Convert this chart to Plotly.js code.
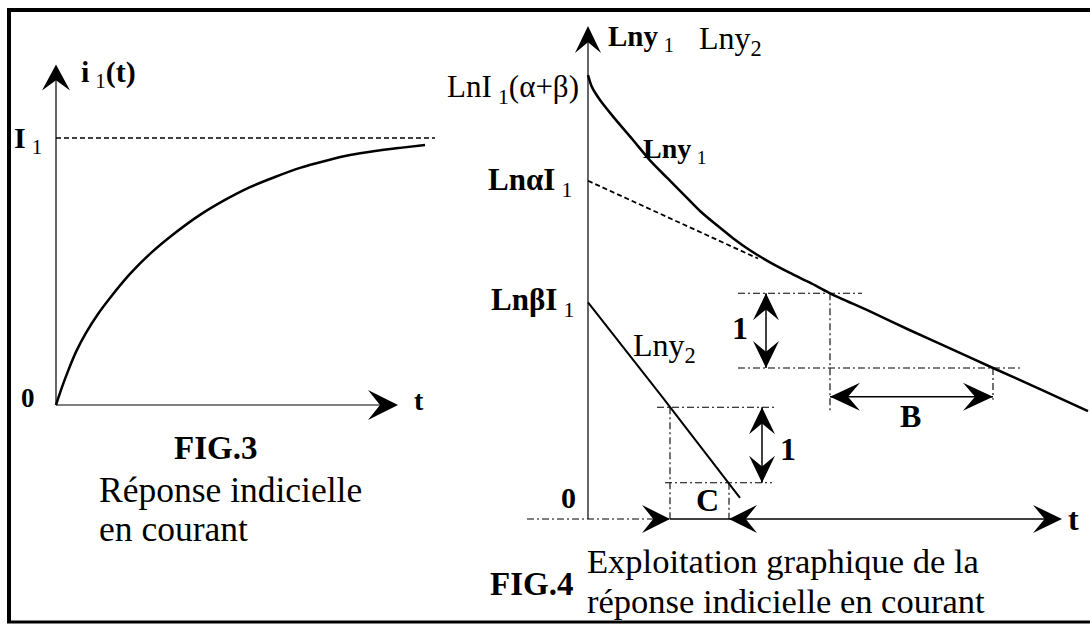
<!DOCTYPE html>
<html>
<head>
<meta charset="utf-8">
<script src="https://cdn.plot.ly/plotly-3.0.1.min.js"></script>
<style>
  html, body { margin: 0; padding: 0; background: #fff; }
  #plot { width: 1090px; height: 625px; }
</style>
</head>
<body>
<div id="plot"></div>
<script>
// ---------- FIG.3 : step response i1(t), I1 = 1 ----------
const fig3T = [0, 0.06, 0.12, 0.20, 0.30, 0.42, 0.54, 0.74, 0.94, 1.19, 1.44, 1.69, 1.94, 2.19, 2.44, 2.69, 2.94, 3.19, 3.44, 3.69];
const fig3I = [0, 0.067, 0.127, 0.199, 0.270, 0.341, 0.401, 0.491, 0.566, 0.644, 0.712, 0.768, 0.816, 0.854, 0.888, 0.914, 0.936, 0.951, 0.963, 0.974];
const fig3Level = 1;          // I1

// ---------- FIG.4 : logarithmic plot ----------
const lny1T = [0, 0.04, 0.12, 0.27, 0.45, 0.62, 0.79, 0.97, 1.12, 1.29, 1.45, 1.62, 1.82, 2.02, 2.22, 2.42, 2.82, 3.22, 3.62, 4.05, 4.52, 5.00];
const lny1V = [5.88, 5.72, 5.55, 5.30, 5.02, 4.75, 4.52, 4.28, 4.08, 3.89, 3.72, 3.56, 3.40, 3.26, 3.13, 2.99, 2.75, 2.50, 2.26, 2.00, 1.72, 1.43];
const asymT = [0, 1.70];      // Ln(alpha I1) - t/B
const asymV = [4.48, 3.45];
const lny2T = [0, 0.74, 1.52];
const lny2V = [2.87, 1.62, 0.28];
// unit steps used to read B and C
const bTimes = [2.42, 4.05];
const bLevels = [2.99, 2.00];
const cTimes = [0.82, 1.41];
const cLevels = [1.48, 0.48];

// ---------- coordinate systems (px per unit, origin in px) ----------
const W = 1090, H = 625;
const S3 = { xr: 'x',  yr: 'y',  ux: 100, uy: 267,  ox: 56,  oy: 405 };
const S4 = { xr: 'x2', yr: 'y2', ux: 100, uy: 75.5, ox: 588, oy: 519 };
function xRange(s) { return [-s.ox / s.ux, (W - s.ox) / s.ux]; }
function yRange(s) { return [(s.oy - H) / s.uy, s.oy / s.uy]; }
const PX = x => x / W, PY = y => 1 - y / H;

const BLACK = '#000';
const shapes = [];
function seg(s, x0, y0, x1, y1, width, dash) {
  shapes.push({ type: 'line', xref: s.xr, yref: s.yr, x0, y0, x1, y1,
    line: { color: BLACK, width: width, dash: dash || 'solid' } });
}
// filled concave arrowhead, tip at (tx,ty), size in px
function head(s, tx, ty, dir, len, half) {
  const d = { right: [1, 0], left: [-1, 0], up: [0, -1], down: [0, 1] }[dir];
  const p = [-d[1], d[0]];
  const notch = len * 0.6;
  const pts = [
    [0, 0],
    [-d[0] * len + p[0] * half, -d[1] * len + p[1] * half],
    [-d[0] * notch, -d[1] * notch],
    [-d[0] * len - p[0] * half, -d[1] * len - p[1] * half]
  ].map(o => [tx + o[0] / s.ux, ty - o[1] / s.uy]);
  const path = 'M' + pts.map(q => q[0].toFixed(4) + ',' + q[1].toFixed(4)).join(' L') + ' Z';
  shapes.push({ type: 'path', xref: s.xr, yref: s.yr, path,
    fillcolor: BLACK, line: { width: 0 } });
}
function vArrow(s, x, yTop, yBot) {
  seg(s, x, yTop, x, yBot, 1.5);
  head(s, x, yTop, 'up', 27, 13);
  head(s, x, yBot, 'down', 27, 13);
}
const GUIDE = '7px,3px,2px,3px';
const DASH = '5px,3px';

// frame
const frame = { color: BLACK, width: 4 };
shapes.push({ type: 'line', xref: 'paper', yref: 'paper', x0: PX(9), y0: PY(10), x1: 1, y1: PY(10), line: frame });
shapes.push({ type: 'line', xref: 'paper', yref: 'paper', x0: PX(9), y0: PY(8), x1: PX(9), y1: PY(623), line: frame });
shapes.push({ type: 'line', xref: 'paper', yref: 'paper', x0: PX(7), y0: PY(622), x1: 1, y1: PY(622), line: { color: BLACK, width: 3 } });

// FIG.3 axes
seg(S3, 0, 0, 0, 1.25, 1.2);
head(S3, 0, 1.275, 'up', 26, 14);
seg(S3, 0, 0, 3.38, 0, 1.2);
head(S3, 3.42, 0, 'right', 30, 15);
seg(S3, 0, fig3Level, 3.79, fig3Level, 1.5, DASH);

// FIG.4 axes
seg(S4, 0, 0, 0, 6.45, 1.2);
head(S4, 0, 6.53, 'up', 27, 13);
seg(S4, -0.61, 0, cTimes[0], 0, 1.2, GUIDE);
seg(S4, cTimes[0], 0, 4.70, 0, 1.5);
head(S4, 4.74, 0, 'right', 29, 14);

// B construction
seg(S4, 1.50, bLevels[0], 2.74, bLevels[0], 1.1, GUIDE);
seg(S4, 1.50, bLevels[1], 4.34, bLevels[1], 1.1, GUIDE);
seg(S4, bTimes[0], bLevels[0], bTimes[0], 1.42, 1.1, GUIDE);
seg(S4, bTimes[1], bLevels[1], bTimes[1], 1.58, 1.1, GUIDE);
vArrow(S4, 1.78, bLevels[0], bLevels[1]);
seg(S4, bTimes[0], 1.62, bTimes[1], 1.62, 1.5);
head(S4, bTimes[0], 1.62, 'left', 30, 14);
head(S4, bTimes[1], 1.62, 'right', 30, 14);

// C construction
seg(S4, 0.69, cLevels[0], 1.89, cLevels[0], 1.1, GUIDE);
seg(S4, 0.77, cLevels[1], 1.84, cLevels[1], 1.1, GUIDE);
seg(S4, cTimes[0], cLevels[0], cTimes[0], 0, 1.1, GUIDE);
seg(S4, cTimes[1], cLevels[1], cTimes[1], 0, 1.1, GUIDE);
vArrow(S4, 1.74, cLevels[0], cLevels[1]);
head(S4, cTimes[0], 0, 'right', 28, 14);
head(S4, cTimes[1], 0, 'left', 28, 14);

// ---------- traces ----------
const traces = [
  { x: fig3T, y: fig3I, xaxis: 'x', yaxis: 'y', mode: 'lines',
    line: { color: BLACK, width: 2.5, shape: 'spline', smoothing: 0.8 } },
  { x: lny1T, y: lny1V, xaxis: 'x2', yaxis: 'y2', mode: 'lines',
    line: { color: BLACK, width: 2.5, shape: 'spline', smoothing: 0.8 } },
  { x: asymT, y: asymV, xaxis: 'x2', yaxis: 'y2', mode: 'lines',
    line: { color: BLACK, width: 1.8, dash: DASH } },
  { x: lny2T, y: lny2V, xaxis: 'x2', yaxis: 'y2', mode: 'lines',
    line: { color: BLACK, width: 2 } }
];

// ---------- labels ----------
const SERIF = 'Liberation Serif, Times New Roman, serif';
const annotations = [];
function label(text, x, y, size, xanchor) {
  annotations.push({ text, x: PX(x), y: PY(y), xref: 'paper', yref: 'paper',
    xanchor: xanchor || 'center', yanchor: 'middle', showarrow: false,
    font: { family: SERIF, size: size, color: BLACK } });
}
const T = '\u2009';
// FIG.3
label('<b>i</b>' + T + '<sub>1</sub><b>(t)</b>', 79, 74, 30, 'left');
label('<b>I</b>' + T + '<sub>1</sub>', 12, 140, 30, 'left');
label('<b>0</b>', 28, 398, 27);
label('<b>t</b>', 419, 400, 28);
label('<b>FIG.3</b>', 215, 448, 33);
label('Réponse indicielle', 97, 490, 35.5, 'left');
label('en courant', 97, 529, 35.5, 'left');
// FIG.4
label('<b>Lny</b>' + T + '<sub>1</sub>', 606, 38, 29, 'left');
label('Lny<sub>2</sub>', 697, 40, 32, 'left');
label('LnI' + T + '<sub>1</sub>(α+β)', 581, 89, 31, 'right');
label('<b>Lny</b>' + T + '<sub>1</sub>', 641, 150, 28, 'left');
label('<b>LnαI</b>' + T + '<sub>1</sub>', 486, 182, 31, 'left');
label('<b>LnβI</b>' + T + '<sub>1</sub>', 489, 302, 31, 'left');
label('Lny<sub>2</sub>', 631, 347, 32, 'left');
label('<b>1</b>', 740, 328, 32);
label('<b>1</b>', 788, 449, 32);
label('<b>B</b>', 910, 416, 32);
label('<b>0</b>', 568, 497, 30);
label('<b>C</b>', 707, 500, 32);
label('<b>t</b>', 1073, 519, 32);
label('<b>FIG.4</b>', 575, 584, 33, 'right');
label('Exploitation graphique de la', 585, 561, 34.5, 'left');
label('réponse indicielle en courant', 585, 601, 34.5, 'left');

const hidden = r => ({ range: r, visible: false, fixedrange: true, domain: [0, 1] });
const layout = {
  width: W, height: H, autosize: false,
  margin: { l: 0, r: 0, t: 0, b: 0, pad: 0 },
  paper_bgcolor: '#fff', plot_bgcolor: 'rgba(0,0,0,0)',
  showlegend: false, hovermode: false,
  xaxis: Object.assign(hidden(xRange(S3)), { anchor: 'y' }),
  yaxis: Object.assign(hidden(yRange(S3)), { anchor: 'x' }),
  xaxis2: Object.assign(hidden(xRange(S4)), { anchor: 'y2' }),
  yaxis2: Object.assign(hidden(yRange(S4)), { anchor: 'x2' }),
  shapes, annotations
};
Plotly.newPlot('plot', traces, layout, { staticPlot: true, displayModeBar: false });
</script>
</body>
</html>
